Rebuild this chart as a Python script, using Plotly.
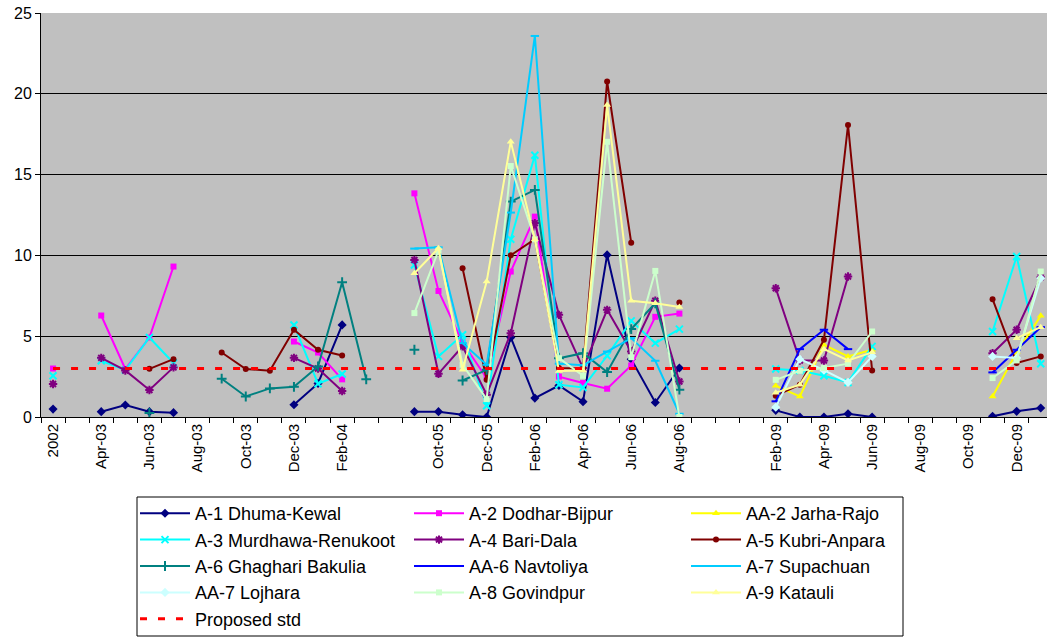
import plotly.graph_objects as go

# Sampling months (category axis, one slot per month; blank slots separate campaigns)
categories = [
    "2002", "Mar-03", "Apr-03", "May-03", "Jun-03", "Jul-03", "Aug-03", "Sep-03",
    "Oct-03", "Nov-03", "Dec-03", "Jan-04", "Feb-04", "Mar-04", " ",
    "Sep-05", "Oct-05", "Nov-05", "Dec-05", "Jan-06", "Feb-06", "Mar-06", "Apr-06",
    "May-06", "Jun-06", "Jul-06", "Aug-06", "Sep-06", "  ",
    "Jan-09", "Feb-09", "Mar-09", "Apr-09", "May-09", "Jun-09", "Jul-09", "Aug-09",
    "Sep-09", "Oct-09", "Nov-09", "Dec-09", "Jan-10",
]
N = None

a1_dhuma_kewal = [0.49, N, 0.33, 0.74, 0.33, 0.27, N, N, N, N, 0.76, 2.08, 5.70, N, N,
                  0.33, 0.33, 0.14, 0.0, 4.92, 1.17, 1.95, 0.95, 10.03, 3.58, 0.9, 3.03, N, N,
                  N, 0.41, 0.0, 0.0, 0.2, 0.0, N, N, N, N, 0.04, 0.35, 0.56]
a2_dodhar_bijpur = [3.0, N, 6.28, 2.97, 4.92, 9.31, N, N, N, N, 4.67, 3.99, 2.33, N, N,
                    13.84, 7.8, 4.61, 2.4, 9.0, 12.4, 2.5, 2.1, 1.75, 3.19, 6.2, 6.4, N, N,
                    N, N, N, N, N, N, N, N, N, N, N, N, N]
aa2_jarha_rajo = [N, N, N, N, N, N, N, N, N, N, N, N, N, N, N,
                  N, N, N, N, N, N, N, N, N, N, N, N, N, N,
                  N, 1.93, 1.27, 4.47, 3.75, 4.16, N, N, N, N, 1.27, 4.0, 6.26]
a3_murdhawa_renukoot = [2.55, N, 3.48, 2.9, 4.92, 3.34, N, N, N, N, 5.69, 2.06, 2.66, N, N,
                        9.41, 3.75, 5.09, 0.7, 11.0, 16.2, 2.0, 1.83, 3.79, 5.95, 4.57, 5.44, N, N,
                        N, 2.97, 2.88, 2.55, 2.14, 4.37, N, N, N, N, 5.29, 9.93, 3.29]
a4_bari_dala = [2.04, N, 3.66, 2.88, 1.67, 3.07, N, N, N, N, 3.66, 3.0, 1.61, N, N,
                9.72, 2.68, 4.37, 1.38, 5.19, 12.0, 6.32, 3.03, 6.63, 4.05, 7.2, 2.2, N, N,
                N, 7.97, 3.5, 3.5, 8.69, N, N, N, N, N, 3.95, 5.4, 8.65]
a5_kubri_anpara = [N, N, N, N, 2.98, 3.58, N, 3.99, 2.97, 2.86, 5.40, 4.16, 3.81, N, N,
                   N, N, 9.21, 2.31, 10.01, 11.0, 3.03, 3.0, 20.76, 10.79, N, 7.08, N, N,
                   N, 1.32, 2.0, 4.78, 18.07, 2.88, N, N, N, N, 7.29, 3.34, 3.75]
a6_ghaghari_bakulia = [N, N, N, N, 0.25, N, N, 2.37, 1.27, 1.77, 1.87, 3.13, 8.34, 2.33, N,
                       4.16, N, 2.26, 2.92, 13.33, 14.05, 3.64, 3.95, 2.78, 5.44, 7.04, 1.69, N, N,
                       N, N, N, N, N, N, N, N, N, N, N, N, N]
aa6_navtoliya = [N, N, N, N, N, N, N, N, N, N, N, N, N, N, N,
                 N, N, N, N, N, N, N, N, N, N, N, N, N, N,
                 N, 0.97, 4.2, 5.4, 4.2, N, N, N, N, N, 2.76, 4.16, 5.56]
a7_supachuan = [N, N, N, N, N, N, N, N, N, N, N, N, N, N, N,
                10.42, 10.5, 4.57, 3.23, 12.65, 23.58, 3.3, 3.2, 4.05, 4.88, 3.48, 0.2, N, N,
                N, N, N, N, N, N, N, N, N, N, N, N, N]
aa7_lojhara = [N, N, N, N, N, N, N, N, N, N, N, N, N, N, N,
               N, N, N, N, N, N, N, N, N, N, N, N, N, N,
               N, 0.6, 3.58, 2.9, 2.14, 3.75, N, N, N, N, 3.75, 3.65, 8.59]
a8_govindpur = [N, N, N, N, N, N, N, N, N, N, N, N, N, N, N,
                6.43, 10.3, 3.23, 1.11, 15.53, 11.0, 3.64, 2.55, 17.03, 3.7, 9.04, 0.0, N, N,
                N, 2.3, 2.86, 3.03, 3.3, 5.29, N, N, N, N, 2.41, 3.5, 9.0]
a9_katauli = [N, N, N, N, N, N, N, N, N, N, N, N, N, N, N,
              8.9, 10.44, 2.92, 8.38, 17.04, 11.0, 2.85, 2.88, 19.3, 7.19, 7.04, 6.8, N, N,
              N, 1.5, 2.0, 4.2, 3.5, 4.0, N, N, N, N, N, 4.88, 5.56]
proposed_std = 3.0

series = [
    ("A-1 Dhuma-Kewal", a1_dhuma_kewal, "#000080", "diamond", 7),
    ("A-2 Dodhar-Bijpur", a2_dodhar_bijpur, "#FF00FF", "square", 6),
    ("AA-2 Jarha-Rajo", aa2_jarha_rajo, "#FFFF00", "triangle-up", 7),
    ("A-3 Murdhawa-Renukoot", a3_murdhawa_renukoot, "#00FFFF", "x-thin-open", 7),
    ("A-4 Bari-Dala", a4_bari_dala, "#800080", "asterisk-open", 7),
    ("A-5 Kubri-Anpara", a5_kubri_anpara, "#800000", "circle", 6),
    ("A-6 Ghaghari Bakulia", a6_ghaghari_bakulia, "#008080", "cross-thin-open", 7),
    ("AA-6 Navtoliya", aa6_navtoliya, "#0000FF", "line-ew-open", 6),
    ("A-7 Supachuan", a7_supachuan, "#00CCFF", "line-ew-open", 6),
    ("AA-7 Lojhara", aa7_lojhara, "#CCFFFF", "diamond", 7),
    ("A-8 Govindpur", a8_govindpur, "#CCFFCC", "square", 6),
    ("A-9 Katauli", a9_katauli, "#FFFF99", "triangle-up", 7),
]

xs = list(range(len(categories)))
legend_ids = ["legend", "legend2", "legend3"]   # three legend columns, filled row by row

fig = go.Figure()
for i, (name, vals, color, symbol, size) in enumerate(series):
    open_sym = symbol.endswith("-open")
    fig.add_trace(go.Scatter(
        x=xs, y=vals, name=name, mode="lines+markers",
        line=dict(color=color, width=2),
        marker=dict(symbol=symbol, color=color, size=size,
                    line=dict(color=color, width=2 if open_sym else 0)),
        connectgaps=False,
        legend=legend_ids[i % 3],
    ))

fig.add_trace(go.Scatter(
    x=xs, y=[proposed_std] * len(xs), name="Proposed std", mode="lines",
    line=dict(color="#FF0000", width=3, dash="7px,11px"),
    legend="legend",
))

tick_idx = list(range(0, len(categories), 2))

# pixel -> paper helpers for placing the legend block below the plot
PLOT_L, PLOT_W, PLOT_B, PLOT_H = 41, 1006, 417, 404
def px_x(p):
    return (p - PLOT_L) / PLOT_W
def px_y(p):
    return (PLOT_B - p) / PLOT_H

legend_common = dict(
    orientation="v", yanchor="top", xanchor="left",
    bgcolor="rgba(0,0,0,0)", borderwidth=0,
    font=dict(size=18, color="black"),
    itemwidth=50, tracegroupgap=0, y=px_y(495),
)

fig.update_layout(
    width=1047, height=639,
    margin=dict(l=PLOT_L, r=0, t=13, b=639 - PLOT_B, autoexpand=False),
    paper_bgcolor="white",
    plot_bgcolor="#C0C0C0",
    font=dict(family="Liberation Sans, Arial, sans-serif", color="black"),
    showlegend=True,
    legend=dict(x=px_x(135), **legend_common),
    legend2=dict(x=px_x(409), **legend_common),
    legend3=dict(x=px_x(686), **legend_common),
    shapes=[dict(
        type="rect", xref="paper", yref="paper",
        x0=px_x(137), x1=px_x(903), y0=px_y(636), y1=px_y(497),
        line=dict(color="black", width=1), fillcolor="white", layer="below",
    )],
    xaxis=dict(
        range=[-0.5, 41.26],
        tickmode="array", tickvals=tick_idx,
        ticktext=[categories[i] for i in tick_idx],
        tickangle=-90, tickfont=dict(size=15),
        ticks="", showgrid=False, zeroline=False,
        showline=True, linecolor="black", linewidth=1,
        minor=dict(tickmode="linear", tick0=-0.5, dtick=1, ticks="outside",
                   ticklen=5, tickcolor="black", showgrid=False),
    ),
    yaxis=dict(
        range=[0, 25], tickvals=[0, 5, 10, 15, 20, 25],
        tickfont=dict(size=16), ticks="outside", ticklen=5, tickcolor="black",
        showgrid=True, gridcolor="black", gridwidth=1,
        zeroline=False, showline=True, linecolor="black", linewidth=1,
    ),
)

fig.write_html("out.html")
